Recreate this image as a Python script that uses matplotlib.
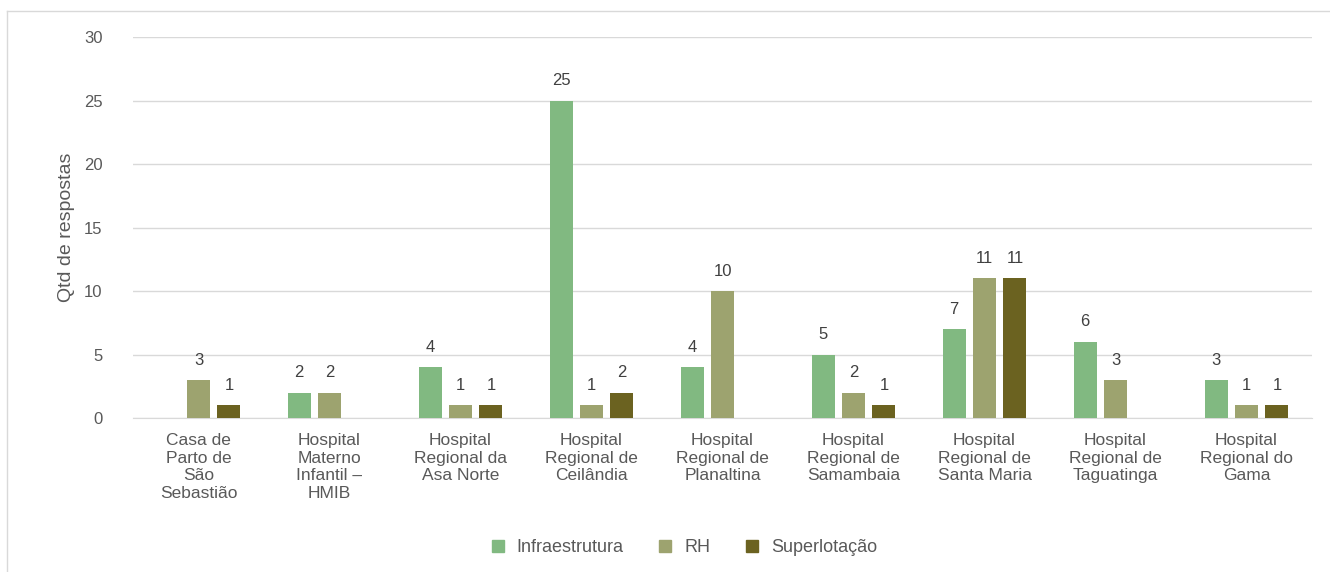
import numpy as np
import matplotlib.pyplot as plt
from matplotlib.lines import Line2D

categories = [
    'Casa de\nParto de\nSão\nSebastião',
    'Hospital\nMaterno\nInfantil –\nHMIB',
    'Hospital\nRegional da\nAsa Norte',
    'Hospital\nRegional de\nCeilândia',
    'Hospital\nRegional de\nPlanaltina',
    'Hospital\nRegional de\nSamambaia',
    'Hospital\nRegional de\nSanta Maria',
    'Hospital\nRegional de\nTaguatinga',
    'Hospital\nRegional do\nGama',
]
series_names = ['Infraestrutura', 'RH', 'Superlotação']
infra = [np.nan, 2, 4, 25, 4, 5, 7, 6, 3]
rh = [3, 2, 1, 1, 10, 2, 11, 3, 1]
superlot = [1, np.nan, 1, 2, np.nan, 1, 11, np.nan, 1]
yticks = [0, 5, 10, 15, 20, 25, 30]

colors = ['#81b981', '#9da36f', '#6b6220']
plt.rcParams['font.family'] = ['Liberation Sans', 'DejaVu Sans']

fig = plt.figure(figsize=(13.3, 5.72), dpi=100)
ax = fig.add_axes([0.1, 0.269, 0.8865, 0.666])

# outer frame like the spreadsheet chart area
fig.add_artist(Line2D([7 / 1330, 7 / 1330], [0, 1 - 11 / 572],
                      transform=fig.transFigure, color='#d9d9d9', lw=1))
fig.add_artist(Line2D([7 / 1330, 1], [1 - 11 / 572, 1 - 11 / 572],
                      transform=fig.transFigure, color='#d9d9d9', lw=1))

x = np.arange(len(categories))
w = 0.176
offs = [-0.232, 0.0, 0.232]
for vals, off, c, nm in zip([infra, rh, superlot], offs, colors, series_names):
    v = np.array(vals, dtype=float)
    ax.bar(x + off, np.nan_to_num(v), width=w, color=c, label=nm, zorder=3)
    for xi, vi in zip(x, v):
        if not np.isnan(vi):
            ax.annotate('{0:d}'.format(int(vi)), (xi + off, vi),
                        xytext=(0, 9), textcoords='offset points',
                        ha='center', va='bottom', fontsize=12,
                        color='#404040')

ax.set_xlim(-0.5, len(categories) - 0.5)
ax.set_ylim(0, 30)
ax.set_yticks(yticks)
ax.set_yticklabels([str(t) for t in yticks], fontsize=12, color='#595959')
ax.set_xticks(x)
ax.set_xticklabels(categories, fontsize=12.5, color='#595959',
                   linespacing=1.2)
ax.tick_params(axis='both', length=0)
ax.tick_params(axis='y', pad=22)
ax.tick_params(axis='x', pad=11)
ax.grid(axis='y', color='#d9d9d9', lw=1, zorder=0)
for s in ['top', 'right', 'left']:
    ax.spines[s].set_visible(False)
ax.spines['bottom'].set_color('#d9d9d9')
ax.set_ylabel('Qtd de respostas', fontsize=14, color='#595959', labelpad=6)

handles = [Line2D([], [], marker='s', ls='', color=c, markersize=9)
           for c in colors]
fig.legend(handles, series_names, loc='center', ncol=3,
           bbox_to_anchor=(0.51, 1 - 548 / 572), frameon=False,
           fontsize=13, handletextpad=0.05, columnspacing=1.3,
           labelcolor='#595959')

plt.savefig('out.png', dpi=100)
